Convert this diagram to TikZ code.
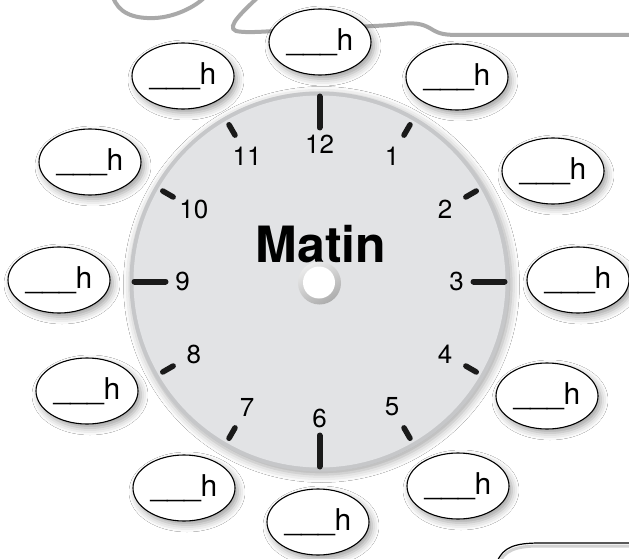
\documentclass[tikz,border=0pt]{standalone}
\usepackage{fontspec}
\setmainfont{TeX Gyre Heros}
\usetikzlibrary{shapes.geometric,shadows.blur,calc}
\definecolor{face}{HTML}{E2E3E5}
\definecolor{rim}{HTML}{C6C7C9}
\definecolor{wave}{HTML}{A9A9A9}
\definecolor{tickc}{HTML}{1A1A1A}
\tikzset{
 bubble/.style={ellipse, draw=black, line width=1.1pt, fill=white,
   minimum width=102pt, minimum height=66pt, inner sep=0pt,
   font=\fontsize{30}{30}\selectfont,
   blur shadow={shadow xshift=3pt, shadow yshift=-4pt, shadow blur radius=7pt, shadow opacity=38}},
 hour/.style={font=\fontsize{26}{26}\selectfont, inner sep=0pt},
 majortick/.style={line width=6pt, line cap=round, draw=tickc},
 minortick/.style={line width=5.5pt, line cap=round, draw=tickc},
 waveline/.style={draw=wave, line width=4pt},
}
\begin{document}
\begin{tikzpicture}[x=1pt,y=-1pt]
\useasboundingbox (0,0) rectangle (629,559);
\fill[white] (0,0) rectangle (629,559);
% background wavy line
\draw[waveline] (113,-3) .. controls (118,12) and (132,19) .. (155,18) .. controls (175,17) and (195,7) .. (205,-3);
\draw[waveline] (258,-3) .. controls (245,10) and (225,27) .. (236,31) .. controls (250,34) and (280,30) .. (320,28) .. controls (350,27) and (385,26) .. (402,24) .. controls (418,22) and (425,25) .. (433,30) .. controls (440,34) and (445,35) .. (460,35) -- (632,35);
% bottom-right panel corner
\draw[gray!35, line width=3pt] (498,565) .. controls (504,550) and (516,546) .. (540,546) -- (632,546);
\draw[black, line width=1.2pt] (497,562) .. controls (503,547) and (515,543) .. (540,543) -- (632,543);
% clock
\coordinate (C) at (319.5,281.5);
\fill[rim, blur shadow={shadow xshift=2pt, shadow yshift=-3pt, shadow blur radius=8pt, shadow opacity=35}] (C) circle (190pt);
\fill[face] (C) circle (186pt);
\foreach \h in {1,...,12} {
  \pgfmathtruncatemacro\a{30*\h-90}
  \pgfmathtruncatemacro\m{mod(\h,3)}
  \ifnum\m=0
    \draw[majortick] ($(C)+(\a:154)$) -- ($(C)+(\a:185)$);
    \node[hour] (n\h) at ($(C)+(\a:137)$) {\h};
  \else
    \draw[minortick] ($(C)+(\a:169)$) -- ($(C)+(\a:181)$);
    \node[hour] (n\h) at ($(C)+(\a:145)$) {\h};
  \fi
}
\node[font=\fontsize{50}{50}\selectfont\bfseries, anchor=base, inner sep=0pt] (matin) at (321,262) {Matin};
% centre hole
\shade[top color=gray!15, bottom color=gray!65, shading angle=30] (319.5,283) circle (21.5pt);
\fill[white] (319,282.5) circle (16pt);
% answer bubbles
\node[bubble] (b12) at (320,42) {\_\_\_h};
\node[bubble] (b1) at (457,77) {\_\_\_h};
\node[bubble] (b2) at (553,171) {\_\_\_h};
\node[bubble] (b3) at (578,280) {\_\_\_h};
\node[bubble] (b4) at (547,396) {\_\_\_h};
\node[bubble] (b5) at (458,486) {\_\_\_h};
\node[bubble] (b6) at (318,522) {\_\_\_h};
\node[bubble] (b7) at (184,488) {\_\_\_h};
\node[bubble] (b8) at (87,391) {\_\_\_h};
\node[bubble] (b9) at (59,280) {\_\_\_h};
\node[bubble] (b10) at (90,162) {\_\_\_h};
\node[bubble] (b11) at (183,76) {\_\_\_h};
\end{tikzpicture}
\end{document}
